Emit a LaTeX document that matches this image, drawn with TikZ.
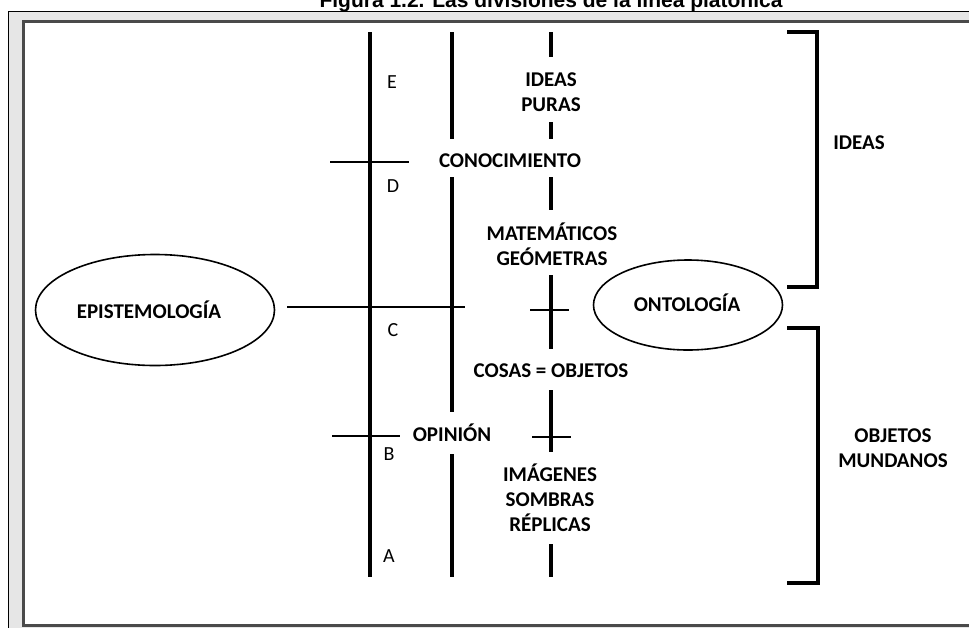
\documentclass[tikz,border=0pt]{standalone}
\usepackage{fontspec}
\setmainfont{Carlito}
\newfontfamily\captionfont{Liberation Sans}
\usetikzlibrary{shapes.geometric}
\definecolor{FrameBand}{HTML}{E6E6E6}
\definecolor{FrameEdge}{HTML}{4A4A4A}

\begin{document}
\begin{tikzpicture}[
      x=1pt,y=-1pt,
      axis/.style={line width=4pt},
      tick/.style={line width=1.2pt},
      brack/.style={line width=3.5pt},
      lbl/.style={font=\fontsize{21}{25}\selectfont\bfseries,align=center,inner sep=0pt},
      letter/.style={font=\fontsize{20}{22}\selectfont,inner sep=0pt},
      oval/.style={ellipse,draw,line width=1.6pt,inner sep=0pt}
    ]
    \path[use as bounding box] (0,0) rectangle (969,627);
    \clip (0,0) rectangle (969,627);
    \node[font=\captionfont\bfseries\fontsize{21}{25}\selectfont,anchor=base,inner sep=0pt]
      (caption) at (551,7) {Figura 1.2. Las divisiones de la línea platónica};
    \draw[fill=FrameBand,line width=1pt] (8,11) rectangle (990,640);
    \draw[fill=white,draw=FrameEdge,line width=3pt] (23,21) rectangle (990,625);

    \draw[axis] (370,32) -- (370,577);
    \foreach \ya/\yb in {32/139,177/412,454/577}
      \draw[axis] (452,\ya) -- (452,\yb);
    \foreach \ya/\yb in {32/57,122/139,177/210,275/349,390/452,544/577}
      \draw[axis] (551,\ya) -- (551,\yb);

    \draw[tick] (330,162) -- (409,162);
    \draw[tick] (332,436) -- (400,436);
    \draw[tick] (530,310) -- (569,310);
    \draw[tick] (532,437) -- (571,437);

    \node[letter] (lE) at (392,82) {E};
    \node[letter] (lD) at (393,186) {D};
    \node[letter] (lC) at (393,330) {C};
    \node[letter] (lB) at (389,454) {B};
    \node[letter] (lA) at (389,556) {A};

    \node[lbl] (ideaspuras) at (551,92) {IDEAS\\PURAS};
    \node[lbl] (conoc) at (510,161) {CONOCIMIENTO};
    \node[lbl] (matem) at (552,244) {MATEMÁTICOS\\GEÓMETRAS};
    \node[lbl] (cosas) at (551,371) {COSAS = OBJETOS};
    \node[lbl] (opinion) at (452,433) {OPINIÓN};
    \node[lbl] (imagenes) at (550,498) {IMÁGENES\\SOMBRAS\\RÉPLICAS};

    \node[oval,minimum width=239pt,minimum height=111pt] (epi) at (155,310) {};
    \node[lbl] (epilbl) at (149,310) {EPISTEMOLOGÍA};
    \node[oval,minimum width=189pt,minimum height=90pt] (onto) at (688,305) {};
    \node[lbl] (ontolbl) at (687,303) {ONTOLOGÍA};
    \coordinate (epiend) at (465,307);
    \draw[tick] ([xshift=12pt]epi.east |- epiend) -- (epiend);

    \draw[brack] (787,32) -| (817,287) -- (787,287);
    \draw[brack] (787,328) -| (818,583) -- (787,583);
    \node[lbl] (ideas) at (859,143) {IDEAS};
    \node[lbl] (mundanos) at (893,448) {OBJETOS\\MUNDANOS};
  \end{tikzpicture}
\end{document}
